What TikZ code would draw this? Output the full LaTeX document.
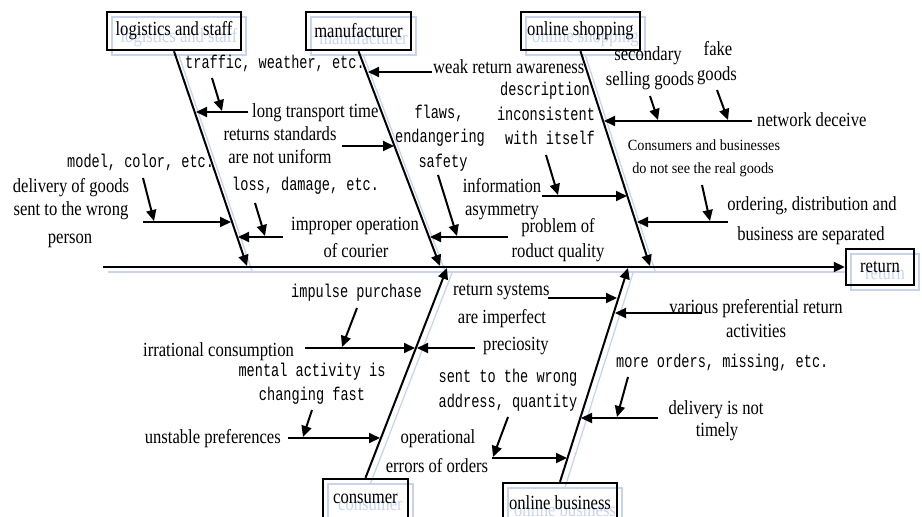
\documentclass[tikz,border=0pt]{standalone}
\usepackage{fontspec}
\setmainfont{Liberation Serif}[FakeStretch=0.83]
\newfontfamily\monof{Liberation Mono}[FakeStretch=0.735]
\newfontfamily\smallserif{Liberation Serif}[FakeStretch=0.92]
\usetikzlibrary{arrows.meta,backgrounds}
\definecolor{ghost}{RGB}{200,212,238}
\begin{document}
\begin{tikzpicture}[x=1pt,y=-1pt,
  lab/.style={font=\fontsize{20}{24}\selectfont, inner sep=0pt},
  mono/.style={font=\monof\fontsize{18.5}{22}\selectfont, inner sep=0pt},
  slab/.style={font=\smallserif\fontsize{15.5}{18}\selectfont, inner sep=0pt},
  box/.style={draw, line width=2.4pt, inner sep=0pt, font=\fontsize{20}{24}\selectfont, minimum height=38pt},
  gbox/.style={draw=ghost, text=ghost, line width=1.3pt, inner sep=0pt, font=\fontsize{20}{24}\selectfont, minimum height=38pt},
  bone/.style={line width=2pt, -{Triangle[length=11pt,width=10pt]}},
  arr/.style={line width=2pt, -{Triangle[length=11pt,width=10pt]}},
  gline/.style={draw=ghost, line width=1.3pt},
]
\useasboundingbox (0,0) rectangle (922,517);
\clip (0,0) rectangle (922,517);

% category boxes
\node[box, minimum width=134pt] (logbox) at (174,31) {logistics and staff};
\node[box, minimum width=105pt] (manbox) at (358.5,31) {manufacturer};
\node[box, minimum width=119pt] (shopbox) at (580.5,31) {online shopping};
\node[box, minimum width=85pt, minimum height=40pt] (conbox) at (365.5,499) {consumer};
\node[box, minimum width=114pt, minimum height=40pt] (busbox) at (560,503) {online business};
\node[box, minimum width=68pt, minimum height=36pt] (retbox) at (880,267) {return};

% ghost copies (background)
\begin{scope}[on background layer]
\node[gbox, minimum width=134pt] (glog) at (179,36) {};
\node[gbox, minimum width=105pt] (gman) at (363.5,36) {};
\node[gbox, minimum width=119pt] (gshop) at (585.5,36) {};
\node[gbox, minimum width=85pt, minimum height=40pt] (gcon) at (370.5,504) {};
\node[gbox, minimum width=114pt, minimum height=40pt] (gbus) at (565,508) {};
\node[gbox, minimum width=68pt, minimum height=36pt] (gret) at (885,272) {};
\node[text=ghost, font=\fontsize{20}{24}\selectfont, inner sep=0pt] (glogt) at (179,38) {logistics and staff};
\node[text=ghost, font=\fontsize{20}{24}\selectfont, inner sep=0pt] (gmant) at (363.5,38) {manufacturer};
\node[text=ghost, font=\fontsize{20}{24}\selectfont, inner sep=0pt] (gshopt) at (585.5,38) {online shopping};
\node[text=ghost, font=\fontsize{20}{24}\selectfont, inner sep=0pt] (gcont) at (370.5,506) {consumer};
\node[text=ghost, font=\fontsize{20}{24}\selectfont, inner sep=0pt] (gbust) at (565,510) {online business};
\node[text=ghost, font=\fontsize{20}{24}\selectfont, inner sep=0pt] (grett) at (885,274) {return};
\coordinate (gsp1) at (108,272);
\coordinate (gsp2) at (846,272);
\draw[gline] (gsp1) -- (gsp2);
\coordinate (glogE) at (252,271); \draw[gline] (glog.south) -- (glogE);
\coordinate (gmanE) at (445,271); \draw[gline] (gman.south) -- (gmanE);
\coordinate (gshopE) at (655,271); \draw[gline] (gshop.south) -- (gshopE);
\coordinate (gconE) at (452,273); \draw[gline] (gcon.north) -- (gconE);
\coordinate (gbusE) at (633,273); \draw[gline] (gbus.north) -- (gbusE);
\end{scope}

% spine
\coordinate (spS) at (103,267);
\draw[bone] (spS) -- (retbox.west);

% bones
\coordinate (logE) at (247,266);
\coordinate (manE) at (440,266);
\coordinate (shopE) at (650,266);
\coordinate (conE) at (447,268);
\coordinate (busE) at (628,268);
\draw[bone] (logbox.south) -- (logE);
\draw[bone] (manbox.south) -- (manE);
\draw[bone] (shopbox.south) -- (shopE);
\draw[bone] (conbox.north) -- (conE);
\draw[bone] (busbox.north) -- (busE);

% ---------- logistics and staff ----------
\coordinate (l1s) at (248,112); \coordinate (l1t) at (196,112);
\coordinate (l1a) at (212,78);  \coordinate (l1b) at (222,111);
\coordinate (l2s) at (143,222); \coordinate (l2t) at (231,222);
\coordinate (l2a) at (143,178); \coordinate (l2b) at (154,221);
\coordinate (l3s) at (283,237); \coordinate (l3t) at (238,237);
\coordinate (l3a) at (255,203); \coordinate (l3b) at (265,236);
\draw[arr] (l1s) -- (l1t);
\draw[arr] (l1a) -- (l1b);
\draw[arr] (l2s) -- (l2t);
\draw[arr] (l2a) -- (l2b);
\draw[arr] (l3s) -- (l3t);
\draw[arr] (l3a) -- (l3b);
\node[mono, anchor=base west] (tl1a) at (185,68) {traffic, weather, etc.};
\node[lab, anchor=base west] (tl1) at (252,117) {long transport time};
\node[mono, anchor=base west] (tl2a) at (67,167) {model, color, etc.};
\node[lab, anchor=base] (tl2) at (71,192) {delivery of goods};
\node[lab, anchor=base] (tl2b) at (71,215) {sent to the wrong};
\node[lab, anchor=base] (tl2c) at (70,243) {person};
\node[mono, anchor=base west] (tl3a) at (232,190) {loss, damage, etc.};
\node[lab, anchor=base] (tl3) at (355,230) {improper operation};
\node[lab, anchor=base] (tl3b) at (356,257) {of courier};

% ---------- manufacturer ----------
\coordinate (m1s) at (432,72);  \coordinate (m1t) at (368,72);
\coordinate (m2s) at (342,146); \coordinate (m2t) at (394,146);
\coordinate (m3s) at (508,237); \coordinate (m3t) at (430,237);
\coordinate (m3a) at (438,175); \coordinate (m3b) at (457,236);
\draw[arr] (m1s) -- (m1t);
\draw[arr] (m2s) -- (m2t);
\draw[arr] (m3s) -- (m3t);
\draw[arr] (m3a) -- (m3b);
\node[lab, anchor=base west] (tm1) at (433,73) {weak return awareness};
\node[lab, anchor=base] (tm2) at (280,140) {returns standards};
\node[lab, anchor=base] (tm2b) at (280,163) {are not uniform};
\node[mono, anchor=base] (tm3a) at (439,118) {flaws,};
\node[mono, anchor=base] (tm3b) at (440,142) {endangering};
\node[mono, anchor=base] (tm3c) at (443,167) {safety};
\node[lab, anchor=base] (tm3) at (558,232) {problem of};
\node[lab, anchor=base] (tm3d) at (558,257) {roduct quality};

% ---------- online shopping ----------
\coordinate (s1s) at (752,121); \coordinate (s1t) at (604,121);
\coordinate (s1a) at (650,96);  \coordinate (s1b) at (658,120);
\coordinate (s1c) at (717,90);  \coordinate (s1d) at (728,120);
\coordinate (s2s) at (542,196); \coordinate (s2t) at (627,196);
\coordinate (s2a) at (546,155); \coordinate (s2b) at (558,195);
\coordinate (s3s) at (728,222); \coordinate (s3t) at (637,222);
\coordinate (s3a) at (702,185); \coordinate (s3b) at (710,221);
\draw[arr] (s1s) -- (s1t);
\draw[arr] (s1a) -- (s1b);
\draw[arr] (s1c) -- (s1d);
\draw[arr] (s2s) -- (s2t);
\draw[arr] (s2a) -- (s2b);
\draw[arr] (s3s) -- (s3t);
\draw[arr] (s3a) -- (s3b);
\node[lab, anchor=base] (ts1a) at (648,60) {secondary};
\node[lab, anchor=base] (ts1b) at (650,85) {selling goods};
\node[lab, anchor=base] (ts1c) at (718,55) {fake};
\node[lab, anchor=base] (ts1d) at (717,80) {goods};
\node[lab, anchor=base west] (ts1) at (757,126) {network deceive};
\node[mono, anchor=base] (ts2a) at (545,95) {description};
\node[mono, anchor=base] (ts2b) at (546,120) {inconsistent};
\node[mono, anchor=base] (ts2c) at (550,144) {with itself};
\node[lab, anchor=base] (ts2) at (502,192) {information};
\node[lab, anchor=base] (ts2d) at (502,215) {asymmetry};
\node[slab, anchor=base] (ts3a) at (704,150) {Consumers and businesses};
\node[slab, anchor=base] (ts3b) at (703,173) {do not see the real goods};
\node[lab, anchor=base] (ts3) at (812,210) {ordering, distribution and};
\node[lab, anchor=base] (ts3c) at (811,240) {business are separated};

% ---------- consumer ----------
\coordinate (c1s) at (305,348); \coordinate (c1t) at (415,348);
\coordinate (c1a) at (357,308); \coordinate (c1b) at (342,347);
\coordinate (c2s) at (475,348); \coordinate (c2t) at (417,348);
\coordinate (c3s) at (288,438); \coordinate (c3t) at (380,438);
\coordinate (c3a) at (312,410); \coordinate (c3b) at (303,437);
\draw[arr] (c1s) -- (c1t);
\draw[arr] (c1a) -- (c1b);
\draw[arr] (c2s) -- (c2t);
\draw[arr] (c3s) -- (c3t);
\draw[arr] (c3a) -- (c3b);
\node[mono, anchor=base west] (tc1a) at (291,297) {impulse purchase};
\node[lab, anchor=base west] (tc1) at (143,356) {irrational consumption};
\node[lab, anchor=base west] (tc2) at (483,350) {preciosity};
\node[mono, anchor=base] (tc3a) at (312,376) {mental activity is};
\node[mono, anchor=base] (tc3b) at (312,400) {changing fast};
\node[lab, anchor=base east] (tc3) at (281,443) {unstable preferences};

% ---------- online business ----------
\coordinate (b1s) at (548,298); \coordinate (b1t) at (617,298);
\coordinate (b2s) at (702,313); \coordinate (b2t) at (615,313);
\coordinate (b3s) at (658,418); \coordinate (b3t) at (581,418);
\coordinate (b3a) at (628,377); \coordinate (b3b) at (617,417);
\coordinate (b4s) at (492,458); \coordinate (b4t) at (567,458);
\coordinate (b4a) at (508,417); \coordinate (b4b) at (493,457);
\draw[arr] (b1s) -- (b1t);
\draw[arr] (b2s) -- (b2t);
\draw[arr] (b3s) -- (b3t);
\draw[arr] (b3a) -- (b3b);
\draw[arr] (b4s) -- (b4t);
\draw[arr] (b4a) -- (b4b);
\node[lab, anchor=base west] (tb1) at (453,295) {return systems};
\node[lab, anchor=base] (tb1b) at (502,323) {are imperfect};
\node[lab, anchor=base] (tb2) at (756,313) {various preferential return};
\node[lab, anchor=base] (tb2b) at (756,337) {activities};
\node[mono, anchor=base west] (tb3a) at (616,367) {more orders, missing, etc.};
\node[lab, anchor=base] (tb3) at (716,414) {delivery is not};
\node[lab, anchor=base] (tb3b) at (717,436) {timely};
\node[mono, anchor=base] (tb4a) at (508,382) {sent to the wrong};
\node[mono, anchor=base] (tb4b) at (508,407) {address, quantity};
\node[lab, anchor=base] (tb4) at (438,443) {operational};
\node[lab, anchor=base] (tb4c) at (437,472) {errors of orders};
\end{tikzpicture}
\end{document}
